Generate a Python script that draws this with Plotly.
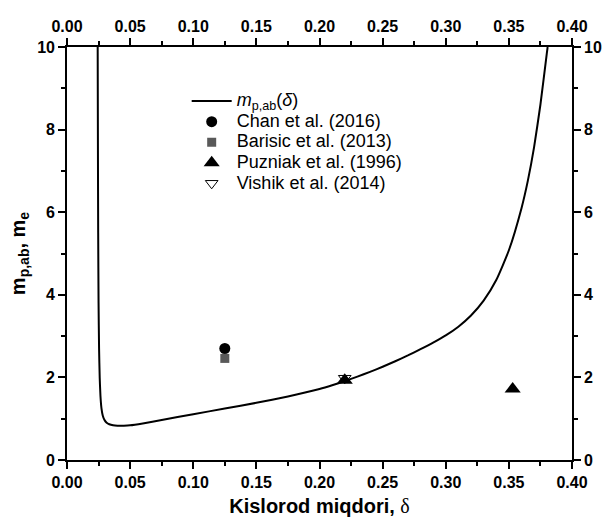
import plotly.graph_objects as go

# Calculated effective mass curve m_p,ab(delta)
curve_delta = [0.0243, 0.0245, 0.0247, 0.0250, 0.0254, 0.0259, 0.0265, 0.0273, 0.0283,
               0.0296, 0.0312, 0.0335, 0.0365, 0.0400, 0.0450, 0.0500, 0.0600, 0.0750,
               0.1000, 0.1250, 0.1500, 0.1750, 0.2000, 0.2100, 0.2200, 0.2300, 0.2400,
               0.2500, 0.2600, 0.2700, 0.2800, 0.2900, 0.3000, 0.3100, 0.3200, 0.3300,
               0.3400, 0.3500, 0.3600, 0.3650, 0.3700, 0.3750, 0.3800, 0.3807]
curve_m = [10.0, 7.5, 5.5, 3.8, 2.7, 2.0, 1.55, 1.25, 1.08,
           0.975, 0.91, 0.865, 0.84, 0.83, 0.832, 0.84, 0.885, 0.97,
           1.11, 1.245, 1.385, 1.54, 1.72, 1.81, 1.91, 2.018, 2.134,
           2.258, 2.39, 2.531, 2.683, 2.843, 3.018, 3.228, 3.498, 3.858,
           4.358, 5.078, 6.098, 6.758, 7.583, 8.608, 9.833, 10.0]

# Experimental values
chan_delta, chan_m = [0.125], [2.70]
barisic_delta, barisic_m = [0.125], [2.46]
puzniak_delta, puzniak_m = [0.220, 0.353], [1.93, 1.72]
vishik_delta, vishik_m = [0.220], [1.98]

x_ticks = [0.00, 0.05, 0.10, 0.15, 0.20, 0.25, 0.30, 0.35, 0.40]
y_ticks = [0, 2, 4, 6, 8, 10]
x_ticktext = ["%.2f" % v for v in x_ticks]
y_ticktext = ["%d" % v for v in y_ticks]

FONT = "Liberation Sans"


def legend_label(text):
    return "<span style='font-size:18px'>" + text + "</span>"


fig = go.Figure()
fig.add_trace(go.Scatter(x=curve_delta, y=curve_m, mode="lines",
                         line=dict(color="black", width=2, shape="spline", smoothing=0.5),
                         name=legend_label("<i>m</i><sub>p,ab</sub>(<i>δ</i>)")))
fig.add_trace(go.Scatter(x=chan_delta, y=chan_m, mode="markers",
                         marker=dict(symbol="circle", size=11, color="black"),
                         name=legend_label("Chan et al. (2016)")))
fig.add_trace(go.Scatter(x=barisic_delta, y=barisic_m, mode="markers",
                         marker=dict(symbol="square", size=9, color="#595959"),
                         name=legend_label("Barisic et al. (2013)")))
fig.add_trace(go.Scatter(x=puzniak_delta, y=puzniak_m, mode="markers",
                         marker=dict(symbol="triangle-up", size=14, color="black"),
                         name=legend_label("Puzniak et al. (1996)")))
fig.add_trace(go.Scatter(x=vishik_delta, y=vishik_m, mode="markers",
                         marker=dict(symbol="triangle-down-open", size=11, color="black",
                                     line=dict(width=1)),
                         name=legend_label("Vishik et al. (2014)")))
# Mirror axes carrying their own labels (top and right)
fig.add_trace(go.Scatter(x=[], y=[], xaxis="x2", yaxis="y2", showlegend=False))

tickfont = dict(family=FONT, size=16, color="black", weight="bold")
common = dict(showline=True, linecolor="black", linewidth=1.6, ticks="outside",
              ticklen=7, tickwidth=1.6, tickcolor="black", showgrid=False,
              zeroline=False, tickfont=tickfont, tickmode="array")
x_minor = dict(ticks="outside", ticklen=4, tickwidth=1.6, tickcolor="black", dtick=0.025, tick0=0)
y_minor = dict(ticks="outside", ticklen=4, tickwidth=1.6, tickcolor="black", dtick=1, tick0=0)

fig.update_layout(
    width=614, height=526,
    margin=dict(l=67, r=36, t=47, b=66),
    plot_bgcolor="white", paper_bgcolor="white",
    xaxis=dict(range=[0, 0.40], tickvals=x_ticks, ticktext=x_ticktext, minor=x_minor,
               title=dict(text="<b>Kislorod miqdori, </b><span style='font-family:Liberation Serif'>δ</span>",
                          font=dict(family=FONT, size=20, color="black"), standoff=9),
               **common),
    yaxis=dict(range=[0, 10], tickvals=y_ticks, ticktext=y_ticktext, minor=y_minor,
               title=dict(text="<b>m<sub>p,ab</sub>, m<sub>e</sub></b>",
                          font=dict(family=FONT, size=20, color="black"), standoff=6),
               **common),
    xaxis2=dict(range=[0, 0.40], tickvals=x_ticks, ticktext=x_ticktext, overlaying="x",
                side="top", anchor="y", minor=x_minor, **common),
    yaxis2=dict(range=[0, 10], tickvals=y_ticks, ticktext=y_ticktext, overlaying="y",
                side="right", anchor="x", minor=y_minor, **common),
    legend=dict(x=0.237, y=0.906, xanchor="left", yanchor="top",
                bgcolor="rgba(0,0,0,0)", borderwidth=0,
                font=dict(family=FONT, size=13.5, color="black"),
                tracegroupgap=0, itemwidth=40),
    showlegend=True,
)

fig.write_html("out.html")
